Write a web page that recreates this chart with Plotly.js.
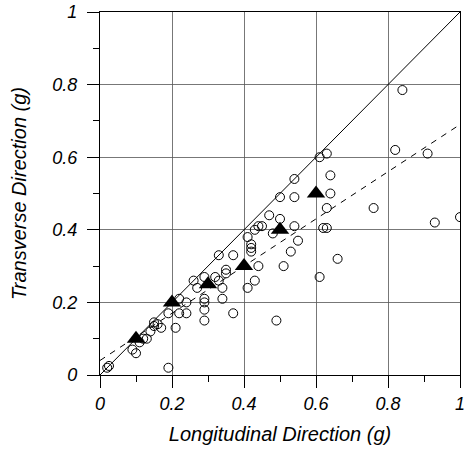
<!DOCTYPE html>
<html>
<head>
<meta charset="utf-8">
<script src="https://cdn.plot.ly/plotly-3.0.1.min.js"></script>
<style>html,body{margin:0;padding:0;background:#fff;}#chart{width:468px;height:455px;}</style>
</head>
<body>
<div id="chart"></div>
<script>
// Open circles: individual records (longitudinal g, transverse g)
const circleX = [0.02,0.025,0.19,0.09,0.10,0.11,0.12,0.13,0.14,0.15,0.17,0.21,0.19,0.24,0.22,0.24,0.29,0.29,0.29,0.29,0.34,0.34,0.37,0.49,0.26,0.27,0.29,0.32,0.33,0.35,0.35,0.33,0.37,0.41,0.43,0.44,0.51,0.42,0.42,0.42,0.41,0.43,0.44,0.45,0.48,0.47,0.50,0.50,0.54,0.54,0.54,0.55,0.53,0.61,0.66,0.62,0.63,0.63,0.64,0.64,0.61,0.63,0.76,0.82,0.91,0.93,1.0,0.84,0.15,0.16,0.22];
const circleY = [0.02,0.025,0.02,0.07,0.06,0.09,0.10,0.10,0.12,0.135,0.13,0.13,0.17,0.17,0.21,0.20,0.21,0.20,0.18,0.15,0.24,0.21,0.17,0.15,0.26,0.24,0.27,0.27,0.26,0.29,0.28,0.33,0.33,0.24,0.26,0.30,0.30,0.34,0.35,0.36,0.38,0.40,0.41,0.41,0.39,0.44,0.43,0.49,0.49,0.54,0.41,0.37,0.34,0.27,0.32,0.405,0.405,0.46,0.50,0.55,0.60,0.61,0.46,0.62,0.61,0.42,0.435,0.785,0.145,0.14,0.17];
// Filled triangles: averages
const triX = [0.1,0.2,0.3,0.4,0.5,0.6];
const triY = [0.1,0.2,0.25,0.3,0.4,0.5];
// Reference lines
const lineX = [0,1];
const equalY = [0,1];
const fitY = [0.04,0.69];
const tickVals = [0,0.2,0.4,0.6,0.8,1];
const tickText = ['0','0.2','0.4','0.6','0.8','1'];

const font = 'Arial, "Liberation Sans", sans-serif';
const traces = [
  {x:lineX, y:equalY, mode:'lines', line:{color:'#000', width:1}, hoverinfo:'skip'},
  {x:lineX, y:fitY, mode:'lines', line:{color:'#000', width:1, dash:'6px,6px'}, hoverinfo:'skip'},
  {x:circleX, y:circleY, mode:'markers', marker:{symbol:'circle-open', size:9, color:'#000', line:{width:1, color:'#000'}}},
  {x:triX, y:triY, mode:'markers', marker:{symbol:'triangle-up', size:16, color:'#000'}}
];
const axisCommon = {
  range:[0,1], tickvals:tickVals, ticktext:tickText, ticks:'outside', ticklen:12, tickwidth:1, tickcolor:'#000',
  showline:true, mirror:true, linecolor:'#000', linewidth:1.2,
  showgrid:true, gridcolor:'#555', gridwidth:0.8, zeroline:false,
  tickfont:{family:font, size:18, color:'#000', style:'italic'},
  minor:{dtick:0.1, ticks:'outside', ticklen:6, tickcolor:'#000', showgrid:false},
  fixedrange:true
};
const layout = {
  width:468, height:455,
  margin:{l:100, r:8, t:12, b:80},
  showlegend:false,
  paper_bgcolor:'#fff', plot_bgcolor:'#fff',
  xaxis:Object.assign({}, axisCommon, {
    title:{text:'Longitudinal Direction (g)', font:{family:font, size:20, color:'#000', style:'italic'}, standoff:14}
  }),
  yaxis:Object.assign({}, axisCommon, {
    ticklabelstandoff:6,
    title:{text:'Transverse Direction (g)', font:{family:font, size:20, color:'#000', style:'italic'}, standoff:20}
  })
};
Plotly.newPlot('chart', traces, layout, {displayModeBar:false, staticPlot:true});
</script>
</body>
</html>
